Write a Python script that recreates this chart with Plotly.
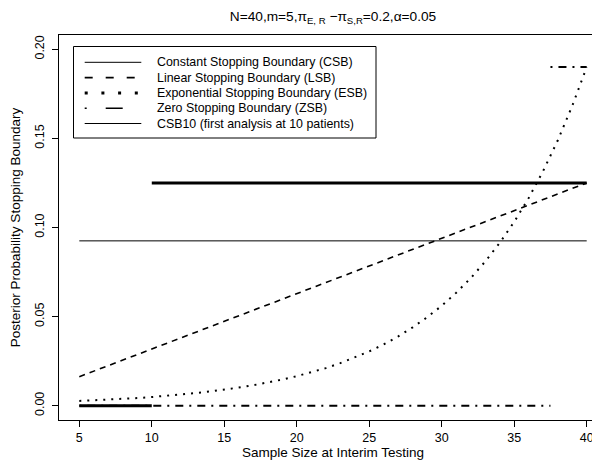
import plotly.graph_objects as go

# ---- data ----
sample_n = list(range(5, 41))

csb_n = [5, 40]
csb_val = [0.0925, 0.0925]

lsb_val = [0.0163, 0.0194, 0.0225, 0.0256, 0.0287, 0.0318, 0.0349, 0.0380,
           0.0411, 0.0443, 0.0474, 0.0505, 0.0536, 0.0567, 0.0598, 0.0629,
           0.0660, 0.0691, 0.0722, 0.0753, 0.0784, 0.0815, 0.0846, 0.0877,
           0.0908, 0.0940, 0.0971, 0.1002, 0.1033, 0.1064, 0.1095, 0.1126,
           0.1157, 0.1188, 0.1219, 0.1250]

esb_val = [0.0027, 0.0030, 0.0034, 0.0038, 0.0043, 0.0049, 0.0055, 0.0062,
           0.0071, 0.0080, 0.0090, 0.0102, 0.0115, 0.0130, 0.0147, 0.0166,
           0.0187, 0.0211, 0.0239, 0.0270, 0.0305, 0.0344, 0.0389, 0.0440,
           0.0497, 0.0561, 0.0634, 0.0716, 0.0809, 0.0914, 0.1032, 0.1166,
           0.1318, 0.1488, 0.1682, 0.1900]

zsb_low_n = [5, 37.5]
zsb_low_val = [0.0, 0.0]
zsb_high_n = [37.5, 40]
zsb_high_val = [0.19, 0.19]

csb10_pre_n = [5, 10]
csb10_pre_val = [0.0, 0.0]
csb10_post_n = [10, 40]
csb10_post_val = [0.125, 0.125]

legend_labels = ["Constant Stopping Boundary (CSB)",
                 "Linear Stopping Boundary (LSB)",
                 "Exponential Stopping Boundary (ESB)",
                 "Zero Stopping Boundary (ZSB)",
                 "CSB10 (first analysis at 10 patients)"]

x_ticks = [5, 10, 15, 20, 25, 30, 35, 40]
y_ticks = [0.00, 0.05, 0.10, 0.15, 0.20]
y_tick_text = ["0.00", "0.05", "0.10", "0.15", "0.20"]

FONT = "Liberation Sans, Arial, Helvetica, sans-serif"

fig = go.Figure()

fig.add_trace(go.Scatter(x=csb_n, y=csb_val, mode="lines", name=legend_labels[0],
                         line=dict(color="black", width=1)))
fig.add_trace(go.Scatter(x=sample_n, y=lsb_val, mode="lines", name=legend_labels[1],
                         line=dict(color="black", width=1.6, dash="6px,5px")))
fig.add_trace(go.Scatter(x=sample_n, y=esb_val, mode="lines", name=legend_labels[2],
                         line=dict(color="black", width=2, dash="2px,6px")))
fig.add_trace(go.Scatter(x=zsb_low_n + [None] + zsb_high_n,
                         y=zsb_low_val + [None] + zsb_high_val,
                         mode="lines", name=legend_labels[3],
                         line=dict(color="black", width=2, dash="2px,6px,8px,6px")))
fig.add_trace(go.Scatter(x=csb10_pre_n + [None] + csb10_post_n,
                         y=csb10_pre_val + [None] + csb10_post_val,
                         mode="lines", name=legend_labels[4],
                         line=dict(color="black", width=3)))

# ---- manual R-style legend ----
W, H = 600, 461
ML, MR, MT, MB = 51, 1, 27, 49
PW, PH = W - ML - MR, H - MT - MB


def px(xp):
    return (xp - ML) / PW


def py(yp):
    return (H - MB - yp) / PH


shapes = [dict(type="rect", xref="paper", yref="paper",
               x0=px(65.5), x1=px(368), y0=py(130), y1=py(38.5),
               line=dict(color="black", width=1), fillcolor="white", layer="above")]
row_y = [54.3, 69.6, 84.9, 100.2, 115.5]
sample_styles = [dict(width=1, dash="solid"),
                 dict(width=1.6, dash="8px,13px"),
                 dict(width=3, dash="3px,13.7px"),
                 dict(width=1.6, dash="2px,19px,17px,100px"),
                 dict(width=1, dash="solid")]
annotations = []
for lbl, yy, st in zip(legend_labels, row_y, sample_styles):
    shapes.append(dict(type="line", xref="paper", yref="paper",
                       x0=px(76.7), x1=px(133.3), y0=py(yy), y1=py(yy),
                       line=dict(color="black", width=st["width"], dash=st["dash"]),
                       layer="above"))
    annotations.append(dict(xref="paper", yref="paper", x=px(146.5), y=py(yy),
                            xanchor="left", yanchor="middle", showarrow=False,
                            text=lbl, font=dict(family=FONT, size=12.4, color="black")))

fig.update_layout(
    width=W, height=H,
    margin=dict(l=ML, r=MR, t=MT, b=MB, pad=0),
    paper_bgcolor="white", plot_bgcolor="white",
    showlegend=False,
    font=dict(family=FONT, size=12, color="black"),
    title=dict(text="N=40,m=5,π<sub>E, R</sub> −π<sub>S,R</sub>=0.2,α=0.05",
               x=0.5, xref="paper", xanchor="center",
               y=1 - 8.5 / H, yref="container", yanchor="middle",
               font=dict(family=FONT, size=13.7, color="black")),
    shapes=shapes,
    annotations=annotations,
)

fig.update_xaxes(range=[3.6, 41.4], tickvals=x_ticks, ticks="outside", ticklen=6,
                 tickcolor="black", showline=True, mirror=True, linecolor="black",
                 linewidth=1, showgrid=False, zeroline=False,
                 title=dict(text="Sample Size at Interim Testing", standoff=3,
                            font=dict(family=FONT, size=13.5)),
                 tickfont=dict(family=FONT, size=12.5))
fig.update_yaxes(range=[-0.008, 0.208], tickvals=y_ticks, ticktext=y_tick_text,
                 tickangle=-90, ticks="outside", ticklen=6, ticklabelstandoff=3,
                 tickcolor="black", showline=True, mirror=True, linecolor="black",
                 linewidth=1, showgrid=False, zeroline=False,
                 title=dict(text="Posterior Probability Stopping Boundary", standoff=14,
                            font=dict(family=FONT, size=13.5)),
                 tickfont=dict(family=FONT, size=12.5))

fig.write_html("out.html")
